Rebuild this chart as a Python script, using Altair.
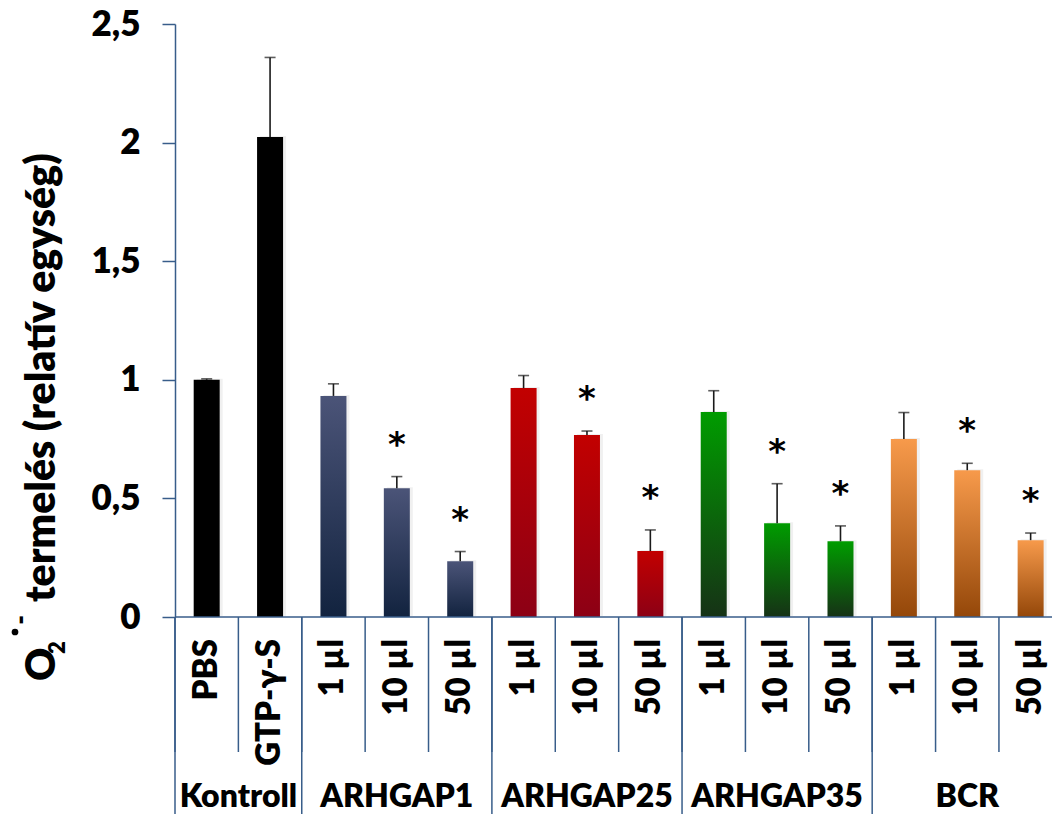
import altair as alt
import pandas as pd

# ---- data -------------------------------------------------------------
groups = ["Kontroll", "ARHGAP1", "ARHGAP25", "ARHGAP35", "BCR"]
group_members = [
    ["PBS", "GTP-γ-S"],
    ["1 µl", "10 µl", "50 µl"],
    ["1 µl", "10 µl", "50 µl"],
    ["1 µl", "10 µl", "50 µl"],
    ["1 µl", "10 µl", "50 µl"],
]
means = [1.00, 2.024,
         0.932, 0.543, 0.235,
         0.965, 0.767, 0.278,
         0.864, 0.395, 0.319,
         0.750, 0.619, 0.324]
errors = [0.004, 0.335,
          0.051, 0.049, 0.041,
          0.053, 0.017, 0.089,
          0.090, 0.167, 0.065,
          0.112, 0.029, 0.030]
significant = [False, False,
               False, True, True,
               False, True, True,
               False, True, True,
               False, True, True]
y_ticks = [0, 0.5, 1, 1.5, 2, 2.5]

# top / bottom colours of each group's vertical gradient
group_colors = {
    "Kontroll": ("#000000", "#000000"),
    "ARHGAP1": ("#4B5478", "#12233F"),
    "ARHGAP25": ("#C20000", "#8C0015"),
    "ARHGAP35": ("#009C00", "#163216"),
    "BCR": ("#F79A4B", "#944709"),
}

rows = []
k = 0
for g, members in zip(groups, group_members):
    for j, lab in enumerate(members):
        rows.append({
            "key": f"{g}|{lab}",
            "group": g,
            "label": lab,
            "mean": means[k],
            "top": means[k] + errors[k],
            "sig": significant[k],
            "first": j == 0,
            "middle": len(members) == 3 and j == 1,
            "kontroll_mid": g == "Kontroll" and j == 1,
        })
        k += 1
df = pd.DataFrame(rows)
order = df["key"].tolist()

# ---- layout -------------------------------------------------------------
AXIS_X = 175      # y axis position within the page
TOP = 24
PLOT_H = 593
PLOT_W = 877
STEP = 63.38
AXIS_COLOR = "#385D8A"
FONT = "Lato"
WEIGHT = 800

base = alt.Chart(df)


def band_x(position=0.5):
    return alt.X("key:N", sort=order, axis=None, bandPosition=position,
                 scale=alt.Scale(range=[0, STEP * len(order)],
                                 paddingInner=0, paddingOuter=0))


x_enc = band_x()
y_scale = alt.Scale(domain=[0, 2.5], nice=False, zero=True)


def gradient(top, bottom):
    return alt.Gradient(
        gradient="linear",
        stops=[alt.GradientStop(color=top, offset=0),
               alt.GradientStop(color=bottom, offset=1)],
        x1=0, x2=0, y1=0, y2=1,
    )


# soft shadow behind the bars
shadow = base.mark_bar(size=26, color="#000000", opacity=0.06,
                       xOffset=3, yOffset=-1).encode(
    x=x_enc, y=alt.Y("mean:Q", scale=y_scale))

bar_layers = []
for g in groups:
    top_c, bot_c = group_colors[g]
    bar_layers.append(
        base.transform_filter(alt.datum.group == g)
        .mark_bar(size=26, color=gradient(top_c, bot_c))
        .encode(x=x_enc, y=alt.Y("mean:Q", scale=y_scale))
    )

err_rule = base.mark_rule(color="#1A1A1A", strokeWidth=1.6).encode(
    x=x_enc, y=alt.Y("mean:Q", scale=y_scale), y2="top:Q")
err_cap = base.mark_tick(color="#1A1A1A", size=11, thickness=1.6).encode(
    x=x_enc, y=alt.Y("top:Q", scale=y_scale))

stars = base.transform_filter(alt.datum.sig).mark_text(
    text="*", font="DejaVu Sans", fontWeight="bold", fontSize=34,
    baseline="alphabetic", dy=-21, color="#000000").encode(
    x=x_enc, y=alt.Y("top:Q", scale=y_scale))

# y axis (ticks and labels with decimal comma)
y_axis = alt.Chart(pd.DataFrame({"v": [0]})).mark_rule(opacity=0).encode(
    y=alt.Y("v:Q", scale=y_scale,
            axis=alt.Axis(values=y_ticks, title=None, grid=False,
                          domainColor=AXIS_COLOR, domainWidth=1.5,
                          tickColor=AXIS_COLOR, tickWidth=1.5, tickSize=13,
                          labelFont=FONT, labelFontWeight=WEIGHT,
                          labelFontSize=35, labelColor="#000000",
                          labelPadding=22,
                          labelExpr="replace(format(datum.value, '~g'), '.', ',')")))

# category axis drawn from the same band scale
baseline_rule = alt.Chart(pd.DataFrame({"v": [0]})).mark_rule(
    color=AXIS_COLOR, strokeWidth=1.5).encode(
    y=alt.Y("v:Q", scale=y_scale))

inner_div = base.mark_rule(color=AXIS_COLOR, strokeWidth=1.5).encode(
    x=band_x(0), y=alt.value(PLOT_H), y2=alt.value(PLOT_H + 135))
group_div = base.transform_filter(alt.datum.first).mark_rule(
    color=AXIS_COLOR, strokeWidth=1.5).encode(
    x=band_x(0), y=alt.value(PLOT_H), y2=alt.value(PLOT_H + 200))

cat_labels = base.mark_text(
    font=FONT, fontWeight=WEIGHT, fontSize=33, angle=270,
    align="right", baseline="middle", color="#000000").encode(
    x=x_enc, y=alt.value(PLOT_H + 22), text="label:N")

group_labels = base.transform_filter(alt.datum.middle).mark_text(
    font=FONT, fontWeight=WEIGHT, fontSize=32, align="center",
    baseline="alphabetic", color="#000000").encode(
    x=x_enc, y=alt.value(PLOT_H + 190), text="group:N")
kontroll_label = base.transform_filter(alt.datum.kontroll_mid).mark_text(
    font=FONT, fontWeight=WEIGHT, fontSize=32, align="center",
    baseline="alphabetic", color="#000000").encode(
    x=band_x(0), y=alt.value(PLOT_H + 190), text="group:N")

# y title: O2 radical anion followed by the description
one = pd.DataFrame({"v": [0]})
TX = -120  # baseline of the rotated title, relative to the y axis
title_main = alt.Chart(one).mark_text(
    text="termelés (relatív egység)", font=FONT, fontWeight=WEIGHT,
    fontSize=41, angle=270, align="left", baseline="alphabetic",
    color="#000000").encode(x=alt.value(TX), y=alt.value(578))
title_o = alt.Chart(one).mark_text(
    text="O", font=FONT, fontWeight=WEIGHT, fontSize=41, angle=270,
    align="left", baseline="alphabetic", color="#000000").encode(
    x=alt.value(TX), y=alt.value(657))
title_sub = alt.Chart(one).mark_text(
    text="2", font=FONT, fontWeight=WEIGHT, fontSize=22, angle=270,
    align="left", baseline="alphabetic", color="#000000").encode(
    x=alt.value(TX + 10), y=alt.value(630))
title_dot = alt.Chart(one).mark_point(
    shape="circle", filled=True, opacity=1, size=45, color="#000000").encode(
    x=alt.value(TX - 40), y=alt.value(608))
title_minus = alt.Chart(one).mark_text(
    text="-", font=FONT, fontWeight=WEIGHT, fontSize=26, angle=270,
    align="center", baseline="middle", color="#000000").encode(
    x=alt.value(TX - 34), y=alt.value(596))

chart = alt.layer(
    y_axis, shadow, *bar_layers, err_rule, err_cap, stars,
    baseline_rule, inner_div, group_div, cat_labels, group_labels,
    kontroll_label, title_main, title_o, title_sub, title_dot, title_minus,
).properties(
    width=PLOT_W, height=PLOT_H,
    autosize=alt.AutoSizeParams(type="none"),
    padding={"left": AXIS_X, "top": TOP, "right": 0, "bottom": 814 - TOP - PLOT_H},
    background="#FFFFFF",
).configure_view(stroke=None)

chart.save("out.html", embed_options={"renderer": "svg", "actions": False})
